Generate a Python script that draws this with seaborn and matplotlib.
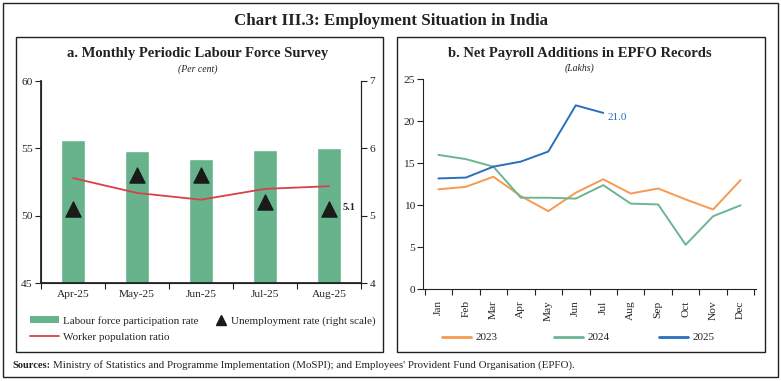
import matplotlib
matplotlib.use("Agg")
import matplotlib.pyplot as plt
from matplotlib.patches import Rectangle, Patch
from matplotlib.lines import Line2D
import seaborn as sns
import pandas as pd
import numpy as np

# ---------------- data ----------------
plfs_months = ["Apr-25", "May-25", "Jun-25", "Jul-25", "Aug-25"]
lfpr = [55.6, 54.8, 54.2, 54.9, 55.0]
wpr = [52.8, 51.7, 51.2, 52.0, 52.2]
unemp = [5.1, 5.6, 5.6, 5.2, 5.1]

months = ["Jan", "Feb", "Mar", "Apr", "May", "Jun", "Jul", "Aug", "Sep", "Oct", "Nov", "Dec"]
epfo_2023 = [11.9, 12.2, 13.4, 11.1, 9.3, 11.5, 13.1, 11.4, 12.0, 10.7, 9.5, 13.0]
epfo_2024 = [16.0, 15.5, 14.6, 10.9, 10.9, 10.8, 12.4, 10.2, 10.1, 5.3, 8.7, 10.0]
epfo_2025 = [13.2, 13.3, 14.6, 15.2, 16.4, 21.9, 21.0]

# ---------------- style ----------------
sns.set_theme(style="white")
plt.rcParams["font.family"] = ["Liberation Serif", "DejaVu Serif"]
plt.rcParams["axes.edgecolor"] = "#222222"
plt.rcParams["xtick.color"] = "#222222"
plt.rcParams["ytick.color"] = "#222222"

W, H = 781, 381
fig = plt.figure(figsize=(W / 100, H / 100), dpi=100)

def fx(x):
    return x / W

def fy(y):
    return 1 - y / H

BAR = "#66b38c"
RED = "#d9404a"
C23 = "#f79a50"
C24 = "#6cb592"
C25 = "#2a6ebd"
TXT = "#222222"

# frames
fig.patches.append(Rectangle((fx(3), fy(377)), fx(775), 374 / H, transform=fig.transFigure,
                             fill=False, edgecolor="#222222", linewidth=1.0))
fig.patches.append(Rectangle((fx(16), fy(352)), fx(367), 315 / H, transform=fig.transFigure,
                             fill=False, edgecolor="#222222", linewidth=1.0))
fig.patches.append(Rectangle((fx(397), fy(352)), fx(368), 315 / H, transform=fig.transFigure,
                             fill=False, edgecolor="#222222", linewidth=1.0))

fig.text(fx(391), fy(21), "Chart III.3: Employment Situation in India", ha="center", va="center",
         fontsize=12.2, fontweight="bold", color=TXT)


def legend_entry(handle, label, x, y, handlelength=2.6):
    fig.legend([handle], [label], loc="center left", bbox_to_anchor=(fx(x), fy(y)),
               frameon=False, fontsize=8, handlelength=handlelength, handleheight=0.6,
               handletextpad=0.4, borderaxespad=0, borderpad=0)

# ---------------- panel a ----------------
ax = fig.add_axes([fx(41), fy(283.3), fx(320), (283.3 - 81) / H])
df_a = pd.DataFrame({"month": plfs_months, "lfpr": lfpr, "wpr": wpr, "ur": unemp})
df_a["pos"] = np.arange(len(plfs_months))
sns.barplot(data=df_a, x="pos", y="lfpr", color=BAR, width=0.39, ax=ax, native_scale=True,
            saturation=1)
sns.lineplot(data=df_a, x="pos", y="wpr", color=RED, linewidth=1.3, ax=ax)
ax.set_ylim(45, 60)
ax.set_xlim(-0.5, 4.5)
ax.set_yticks([45, 50, 55, 60])
ax.set_xticks(np.arange(-0.5, 5, 1))
ax.set_xticklabels([])
ax.set_xticks(df_a["pos"], minor=True)
ax.set_xticklabels(plfs_months, minor=True)
ax.tick_params(axis="x", which="major", direction="out", length=4, width=0.8, bottom=True)
ax.tick_params(axis="x", which="minor", length=0, labelsize=8.2, pad=5, labelcolor=TXT)
ax.tick_params(axis="y", direction="out", length=4, width=0.8, left=True, labelsize=8.2, pad=2,
               labelcolor=TXT)
ax.set_xlabel("")
ax.set_ylabel("")
ax.spines["top"].set_visible(False)
for s in ["left", "bottom", "right"]:
    ax.spines[s].set_linewidth(0.8)

ax2 = ax.twinx()
sns.scatterplot(data=df_a, x="pos", y="ur", marker="^", s=120, color="#1a1a1a", edgecolor="#1a1a1a",
                ax=ax2, zorder=5)
ax2.set_ylim(4, 7)
ax2.set_yticks([4, 5, 6, 7])
ax2.set_xlim(-0.5, 4.5)
ax2.set_ylabel("")
ax2.set_xlabel("")
ax2.tick_params(axis="y", direction="out", length=4, width=0.8, right=True, labelsize=8.2, pad=2,
                labelcolor=TXT)
ax2.spines["top"].set_visible(False)
ax2.spines["right"].set_linewidth(0.8)
ax2.annotate(f"{unemp[-1]:.1f}", xy=(df_a["pos"].iloc[-1], unemp[-1]), xytext=(10, 1),
             textcoords="offset points", fontsize=7.5, fontweight="bold", va="center", color=TXT)

fig.text(fx(198), fy(53), "a. Monthly Periodic Labour Force Survey", ha="center", va="center",
         fontsize=10.5, fontweight="bold", color=TXT)
fig.text(fx(198), fy(69), "(Per cent)", ha="center", va="center", fontsize=7, style="italic", color=TXT)

legend_entry(Patch(facecolor=BAR, edgecolor="none"), "Labour force participation rate", 30, 321)
legend_entry(Line2D([], [], color=RED, linewidth=1.3), "Worker population ratio", 30, 337)
legend_entry(Line2D([], [], color="#1a1a1a", marker="^", linestyle="none", markersize=7),
             "Unemployment rate (right scale)", 215, 321, handlelength=1.0)

# ---------------- panel b ----------------
bx = fig.add_axes([fx(423.3), fy(289.3), fx(332.4), (289.3 - 79.3) / H])
rows = []
for yr, vals in [("2023", epfo_2023), ("2024", epfo_2024), ("2025", epfo_2025)]:
    for i, v in enumerate(vals):
        rows.append({"year": yr, "m": i, "val": v})
df_b = pd.DataFrame(rows)
sns.lineplot(data=df_b, x="m", y="val", hue="year", palette={"2023": C23, "2024": C24, "2025": C25},
             linewidth=1.4, ax=bx, legend=False)
bx.set_ylim(0, 25)
bx.set_xlim(-0.55, 11.55)
bx.set_yticks([0, 5, 10, 15, 20, 25])
bx.set_xticks(np.arange(-0.5, 12, 1))
bx.set_xticklabels([])
bx.set_xticks(np.arange(12), minor=True)
bx.set_xticklabels(months, minor=True, rotation=90)
bx.tick_params(axis="x", which="major", direction="out", length=4, width=0.8, bottom=True)
bx.tick_params(axis="x", which="minor", length=0, labelsize=8.2, pad=8, labelcolor=TXT)
bx.tick_params(axis="y", direction="out", length=4, width=0.8, left=True, labelsize=8.2, pad=2,
               labelcolor=TXT)
bx.set_xlabel("")
bx.set_ylabel("")
for s in ["top", "right"]:
    bx.spines[s].set_visible(False)
for s in ["left", "bottom"]:
    bx.spines[s].set_linewidth(0.8)
bx.annotate(f"{epfo_2025[-1]:.1f}", xy=(len(epfo_2025) - 1, epfo_2025[-1]), xytext=(3, -3),
            textcoords="offset points", fontsize=8, color=C25, va="center")

fig.text(fx(580), fy(53), "b. Net Payroll Additions in EPFO Records", ha="center", va="center",
         fontsize=10.5, fontweight="bold", color=TXT)
fig.text(fx(580), fy(68), "(Lakhs)", ha="center", va="center", fontsize=7, style="italic", color=TXT)

legend_entry(Line2D([], [], color=C23, linewidth=2), "2023", 442, 337.5)
legend_entry(Line2D([], [], color=C24, linewidth=2), "2024", 554, 337.5)
legend_entry(Line2D([], [], color=C25, linewidth=2), "2025", 659, 337.5)

# sources
t1 = fig.text(fx(12), fy(365), "Sources:", ha="left", va="center", fontsize=7.5,
              fontweight="bold", color=TXT)
fig.canvas.draw()
bb = t1.get_window_extent()
fig.text(bb.x1 / W + fx(3), fy(365),
         "Ministry of Statistics and Programme Implementation (MoSPI); and Employees' Provident Fund Organisation (EPFO).",
         ha="left", va="center", fontsize=7.85, color=TXT)

fig.savefig("out.png", dpi=100)
